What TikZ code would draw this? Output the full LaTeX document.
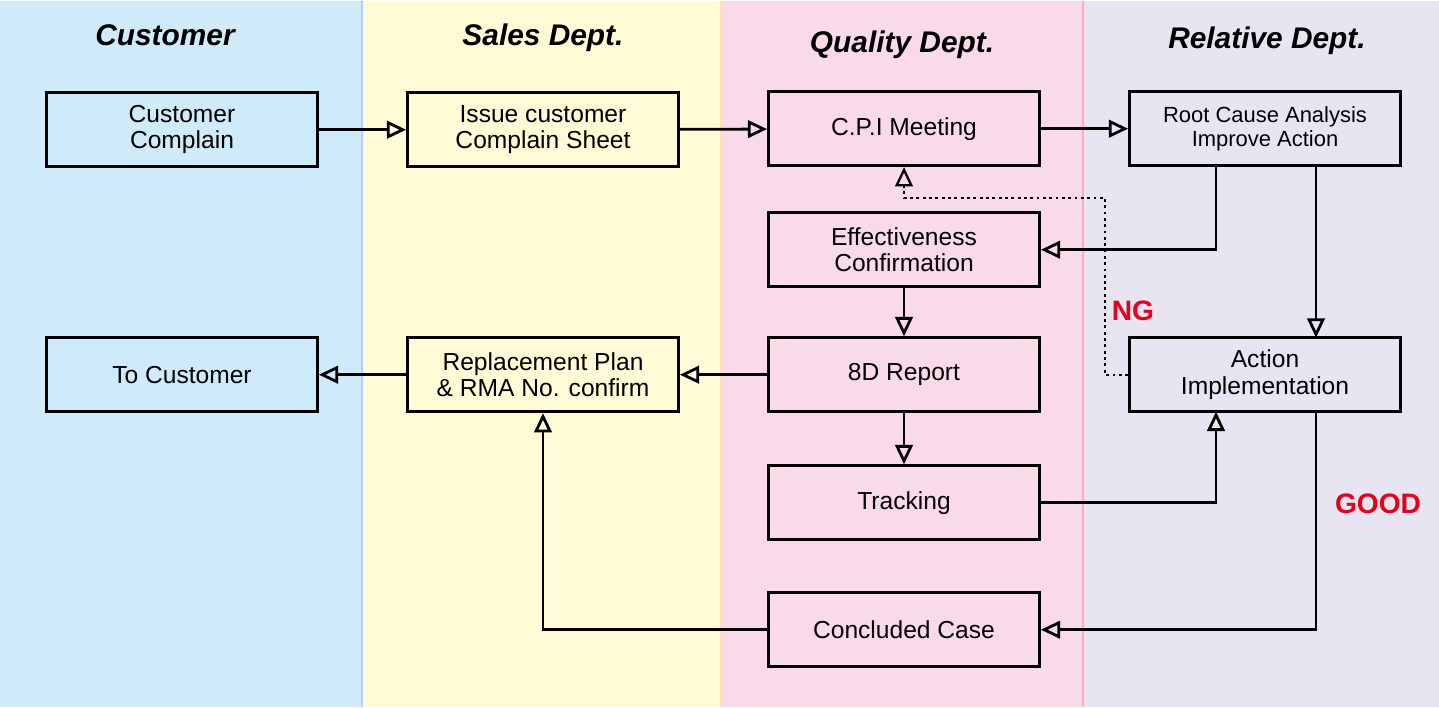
\documentclass[tikz,border=0pt]{standalone}
\usepackage{fontspec}
\setmainfont{Liberation Sans}
\usetikzlibrary{arrows.meta,positioning}
\definecolor{laneA}{RGB}{207,234,248}
\definecolor{laneB}{RGB}{255,251,214}
\definecolor{laneC}{RGB}{248,218,232}
\definecolor{laneD}{RGB}{232,228,242}
\definecolor{ngred}{RGB}{226,0,26}
\tikzset{
 box/.style={draw, line width=1.6pt, minimum width=5.42cm, minimum height=1.48cm, align=center, font=\fontsize{14}{15}\selectfont, inner sep=1pt},
 lane/.style={font=\fontsize{17}{18}\selectfont\bfseries\itshape},
 flow/.style={line width=1.6pt, -{Triangle[open,length=11pt,width=10pt]}},
 verdict/.style={text=ngred, font=\fontsize{16}{17}\selectfont\bfseries}
}
\begin{document}
\begin{tikzpicture}[x=0.02cm,y=-0.02cm]

\fill[laneA] (0,0) rectangle (362,706);
\fill[laneB] (362,0) rectangle (721,706);
\fill[laneC] (721,0) rectangle (1083,706);
\fill[laneD] (1083,0) rectangle (1439,706);
\draw[laneA!70!blue!60, line width=0.8pt] (362,0) -- (362,706);
\draw[laneB!80!orange, line width=0.8pt] (721,0) -- (721,706);
\draw[laneC!80!red, line width=0.8pt] (1083,0) -- (1083,706);

\node[lane] at (165,35) {Customer};
\node[lane] at (543,37) {Sales Dept.};
\node[lane] at (902,44) {Quality Dept.};
\node[lane] at (1267,40) {Relative Dept.};

 \node[box] (cust) at (182,129) {Customer\\Complain};
 \node[box] (issue) at (543,129) {Issue customer\\Complain Sheet};
 \node[box] (cpi) at (904,128) {C.P.I Meeting};
 \node[box, font=\fontsize{12.5}{14}\selectfont] (root) at (1265,128) {Root Cause Analysis\\Improve Action};
 \node[box] (eff) at (904,249) {Effectiveness\\Confirmation};
 \node[box] (rep) at (904,374) {8D Report};
 \node[box] (act) at (1265,374) {Action\\Implementation};
 \node[box] (repl) at (543,374) {Replacement Plan\\\& RMA No. confirm};
 \node[box] (tocust) at (182,374) {To Customer};
 \node[box] (track) at (904,502) {Tracking};
 \node[box] (done) at (904,629) {Concluded Case};

\coordinate (rootA) at (1216,165);
\coordinate (rootB) at (1316,165);
\coordinate (actA) at (1216,411);
\coordinate (actB) at (1316,411);
\coordinate (actN) at (1316,337);
\coordinate (ng) at (1105,197);

\draw[flow] (cust) -- (issue);
\draw[flow] (issue) -- (cpi);
\draw[flow] (cpi) -- (root);
\draw[flow] (rootA) |- (eff.east);
\draw[flow] (rootB) -- (actN);
\draw[flow] (eff) -- (rep);
\draw[flow] (rep) -- (repl);
\draw[flow] (repl) -- (tocust);
\draw[flow] (rep) -- (track);
\draw[flow] (track.east) -| (actA);
\draw[flow] (actB) |- (done.east);
\draw[flow] (done.west) -| (repl.south);
\draw[flow, dotted, line width=1.3pt] (act.west) -| (ng) -| (cpi.south);

\node[verdict] at (1133,310) {NG};
\node[verdict] at (1378,503) {GOOD};

\end{tikzpicture}
\end{document}
